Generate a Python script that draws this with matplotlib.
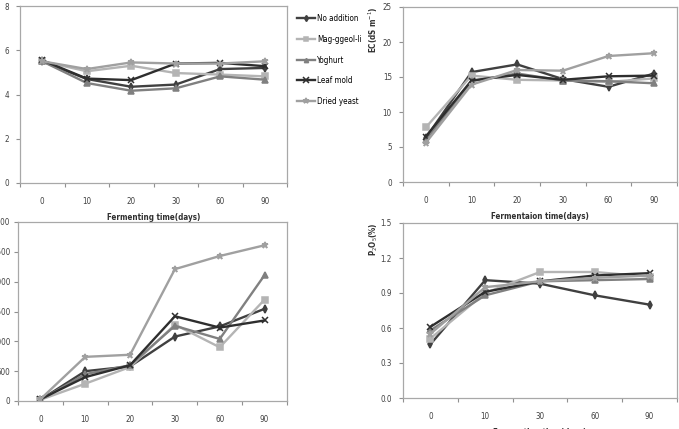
import matplotlib
matplotlib.use("Agg")
import matplotlib.pyplot as plt

plt.rcParams["font.family"] = ["DejaVu Sans"]
plt.rcParams["font.stretch"] = "condensed"

series = ["No addition", "Mag-ggeol-li", "Yoghurt", "Leaf mold", "Dried yeast"]
colors = ["#404040", "#b4b4b4", "#808080", "#2e2e2e", "#a0a0a0"]
markers = ["d", "s", "^", "x", "*"]

days6 = ["0", "10", "20", "30", "60", "90"]
days5 = ["0", "10", "30", "60", "90"]

ph = [
    [5.5, 4.7, 4.35, 4.45, 5.15, 5.2],
    [5.5, 5.05, 5.3, 4.97, 4.9, 4.82],
    [5.5, 4.52, 4.17, 4.28, 4.82, 4.67],
    [5.55, 4.72, 4.65, 5.4, 5.43, 5.28],
    [5.5, 5.15, 5.45, 5.4, 5.4, 5.5],
]
ec = [
    [6.3, 15.7, 16.8, 14.7, 13.6, 15.5],
    [7.8, 15.2, 14.6, 14.5, 14.3, 14.8],
    [6.0, 14.4, 15.5, 14.5, 14.4, 14.1],
    [6.5, 14.5, 15.3, 14.6, 15.1, 15.2],
    [5.6, 13.9, 16.0, 15.9, 18.0, 18.4],
]
nh4 = [
    [20, 500, 580, 1080, 1250, 1545],
    [20, 290, 570, 1280, 900, 1700],
    [20, 450, 600, 1260, 1040, 2110],
    [30, 400, 600, 1420, 1230, 1350],
    [30, 740, 775, 2210, 2430, 2610],
]
p2o5 = [
    [0.46, 1.01, 0.98, 0.88, 0.80],
    [0.51, 0.90, 1.08, 1.08, 1.04],
    [0.58, 0.88, 1.00, 1.01, 1.02],
    [0.61, 0.91, 1.00, 1.05, 1.07],
    [0.55, 0.95, 1.00, 1.03, 1.05],
]

W, H = 679, 429
fig = plt.figure(figsize=(W / 100, H / 100), dpi=100)
FS = 5.8


def axes_px(x0, y0, x1, y1):
    return fig.add_axes([x0 / W, 1 - y1 / H, (x1 - x0) / W, (y1 - y0) / H])


def panel(ax, cats, data, ylim, yticks, yfmt, xlabel, ypad=5):
    x = list(range(len(cats)))
    for vals, c, m in zip(data, colors, markers):
        ms = 5 if m in ("x", "*") else 3.8
        ax.plot(x, vals, color=c, lw=1.7, marker=m, ms=ms, mew=1.1)
    ax.set_xlim(-0.5, len(cats) - 0.5)
    ax.set_ylim(*ylim)
    ax.set_yticks(yticks)
    ax.set_yticklabels([yfmt.format(v) for v in yticks])
    ax.set_xticks([i + 0.5 for i in range(-1, len(cats))])
    ax.set_xticklabels([])
    ax.set_xticks(x, minor=True)
    ax.set_xticklabels(cats, minor=True)
    ax.tick_params(axis="x", which="major", length=3, color="#909090")
    ax.tick_params(axis="x", which="minor", length=0, labelsize=FS,
                   pad=10, colors="#404040")
    ax.tick_params(axis="y", length=3, color="#909090", labelsize=FS,
                   pad=ypad, colors="#404040")
    for s in ax.spines.values():
        s.set_color("#a8a8a8")
        s.set_linewidth(0.9)
    ax.set_xlabel(xlabel, fontsize=FS, fontweight="bold", labelpad=5,
                  color="#303030")


ax1 = axes_px(20, 6, 287, 183)
panel(ax1, days6, ph, (0, 8), [0, 2, 4, 6, 8], "{:g}",
      "Fermenting time(days)")
ax1.set_ylabel("pH", fontsize=FS, fontweight="bold", color="#303030")
ax1.yaxis.set_label_coords(-0.08, 0.95)
handles = ax1.get_lines()
fig.legend(handles, series, loc="upper left",
           bbox_to_anchor=(290 / W, 1 - 7 / H), frameon=False,
           fontsize=FS, handlelength=2.2, labelspacing=1.45,
           handletextpad=0.3, markerscale=0.8)

ax2 = axes_px(403, 7, 677, 182)
panel(ax2, days6, ec, (0, 25), [0, 5, 10, 15, 20, 25], "{:g}",
      "Fermentaion time(days)")
ax2.set_ylabel("EC(dS m$^{-1}$)", fontsize=FS, fontweight="bold",
               color="#303030")
ax2.yaxis.set_label_coords(-0.085, 0.87)

ax3 = axes_px(18, 222, 287, 401)
panel(ax3, days6, nh4, (0, 3000), [0, 500, 1000, 1500, 2000, 2500, 3000],
      "{:g}", "Fermenting time(days)", ypad=2.5)

ax4 = axes_px(403, 223, 677, 398)
panel(ax4, days5, p2o5, (0, 1.5), [0, 0.3, 0.6, 0.9, 1.2, 1.5], "{:.1f}",
      "Fermenting time(days)")
ax4.set_ylabel("P$_2$O$_5$(%)", fontsize=FS, fontweight="bold",
               color="#303030")
ax4.yaxis.set_label_coords(-0.085, 0.91)

fig.savefig("out.png", dpi=100)
